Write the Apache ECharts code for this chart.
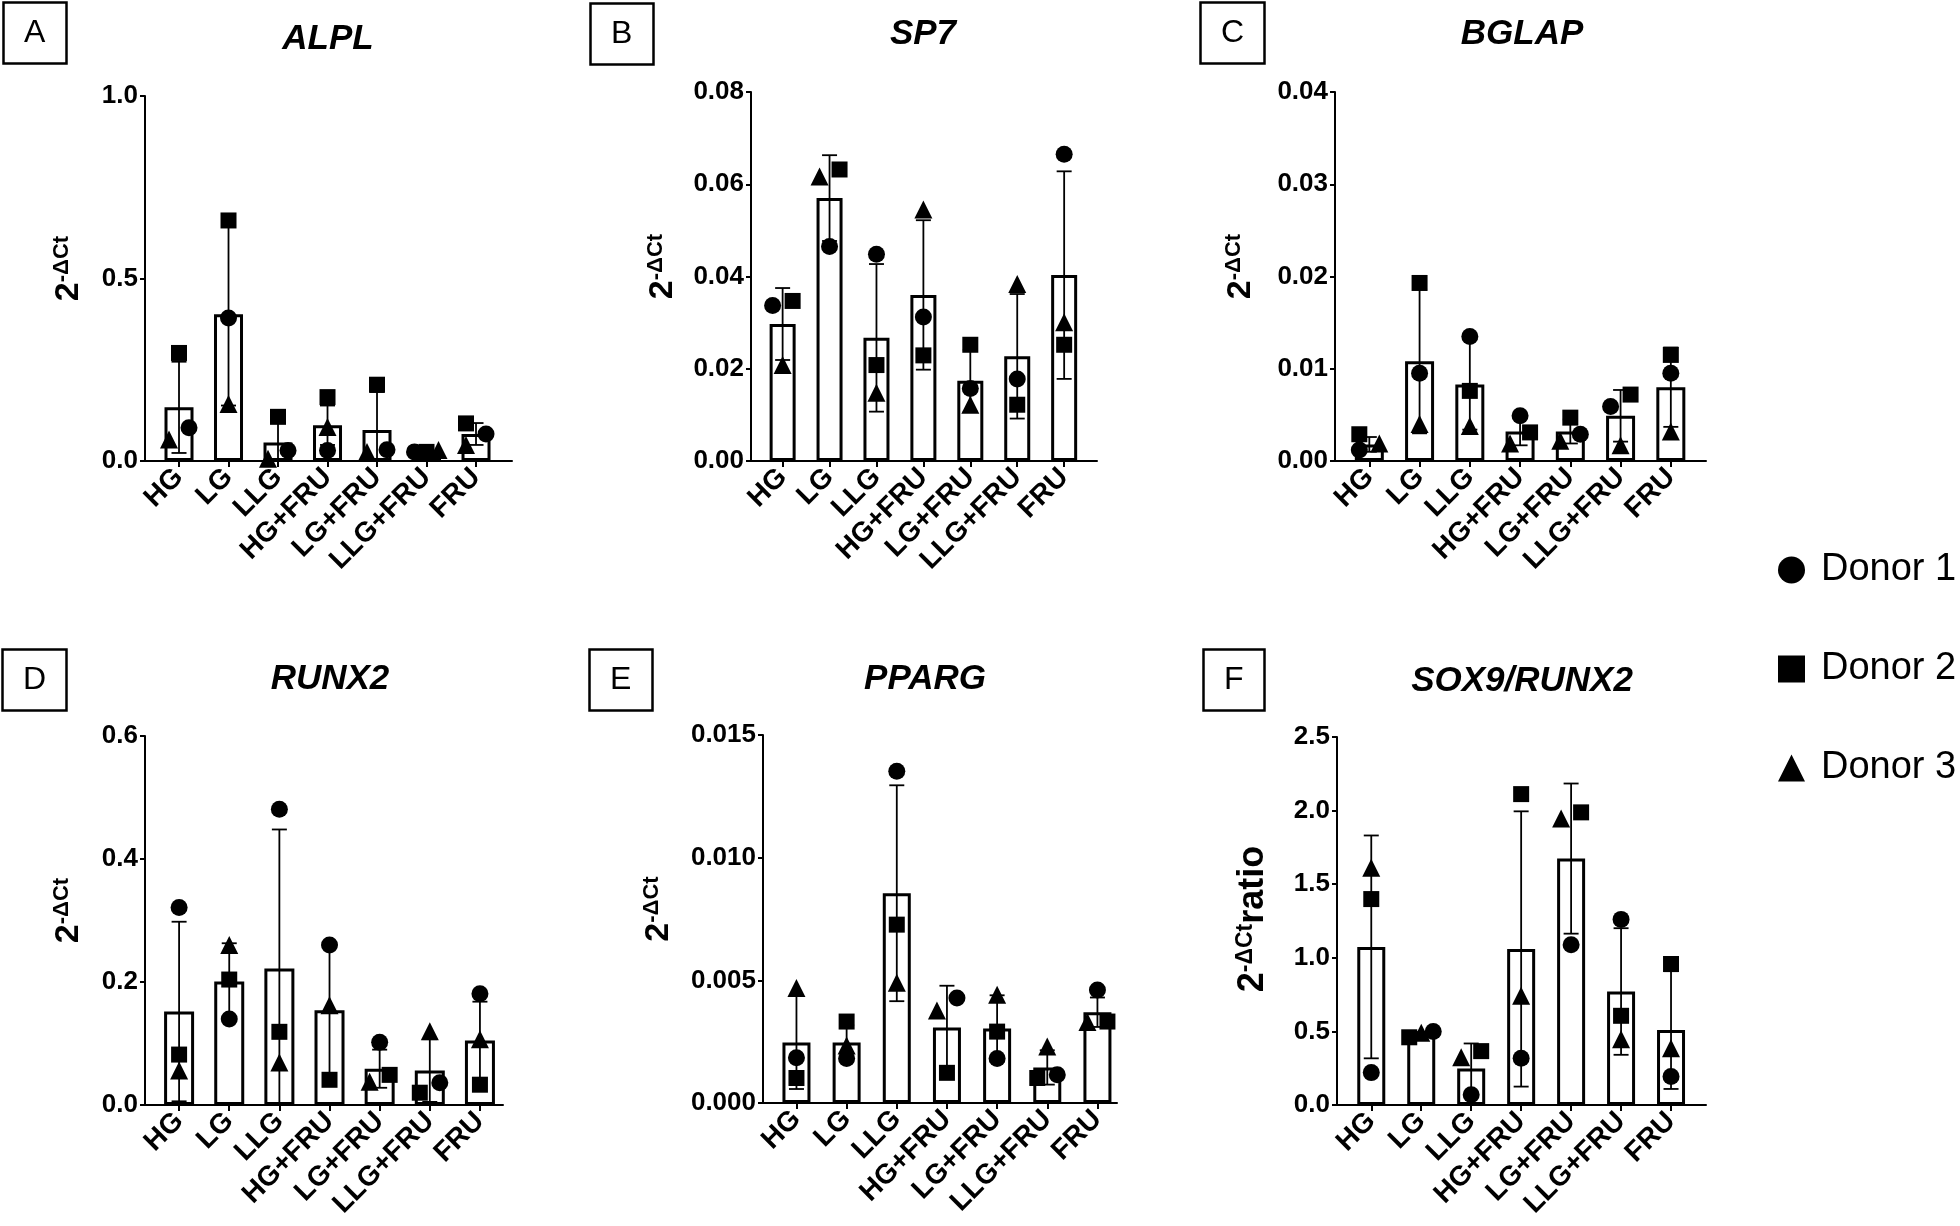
<!DOCTYPE html>
<html>
<head>
<meta charset="utf-8">
<script src="https://cdn.jsdelivr.net/npm/echarts@6/dist/echarts.min.js"></script>
<style>
html,body{margin:0;padding:0;background:#fff;}
#chart{width:1960px;height:1226px;}
</style>
</head>
<body>
<div id="chart"></div>
<script>
// ---------------- DATA ----------------
const categories = ['HG', 'LG', 'LLG', 'HG+FRU', 'LG+FRU', 'LLG+FRU', 'FRU'];
const donorNames = ['Donor 1', 'Donor 2', 'Donor 3'];

// A: ALPL
const alplDonor1 = [0.091, 0.392, 0.029, 0.029, 0.031, 0.025, 0.074];
const alplDonor2 = [0.296, 0.659, 0.121, 0.175, 0.209, 0.025, 0.103];
const alplDonor3 = [0.059, 0.156, 0.006, 0.093, 0.025, 0.030, 0.044];
const alplMean   = [0.147, 0.402, 0.051, 0.098, 0.085, 0.027, 0.074];
const alplSD     = [0.125, 0.250, 0.061, 0.054, 0.104, 0.003, 0.030];

// B: SP7
const sp7Donor1 = [0.0337, 0.0465, 0.0448, 0.0312, 0.0157, 0.0178, 0.0665];
const sp7Donor2 = [0.0347, 0.0632, 0.0208, 0.0229, 0.0252, 0.0122, 0.0252];
const sp7Donor3 = [0.0208, 0.0617, 0.0148, 0.0545, 0.0122, 0.0384, 0.0301];
const sp7Mean   = [0.0297, 0.0570, 0.0267, 0.0360, 0.0174, 0.0227, 0.0403];
const sp7SD     = [0.0078, 0.0093, 0.0160, 0.0162, 0.0067, 0.0135, 0.0225];

// C: BGLAP
const bglapDonor1 = [0.0012, 0.0095, 0.0135, 0.0049, 0.0029, 0.0059, 0.0095];
const bglapDonor2 = [0.0029, 0.0193, 0.0076, 0.0031, 0.0047, 0.0072, 0.0115];
const bglapDonor3 = [0.0019, 0.0040, 0.0038, 0.0019, 0.0022, 0.0017, 0.0032];
const bglapMean   = [0.0018, 0.0108, 0.0083, 0.0032, 0.0032, 0.0049, 0.0080];
const bglapSD     = [0.0008, 0.0078, 0.0049, 0.0015, 0.0013, 0.0028, 0.0043];

// D: RUNX2
const runx2Donor1 = [0.321, 0.140, 0.481, 0.260, 0.102, 0.036, 0.181];
const runx2Donor2 = [0.082, 0.204, 0.119, 0.041, 0.049, 0.020, 0.033];
const runx2Donor3 = [0.056, 0.260, 0.069, 0.162, 0.038, 0.120, 0.107];
const runx2Mean   = [0.152, 0.201, 0.222, 0.154, 0.059, 0.056, 0.105];
const runx2SD     = [0.146, 0.062, 0.226, 0.110, 0.031, 0.051, 0.063];

// E: PPARG
const ppargDonor1 = [0.00184, 0.00181, 0.01352, 0.00428, 0.00181, 0.00115, 0.00461];
const ppargDonor2 = [0.00102, 0.00332, 0.00727, 0.00123, 0.00291, 0.00102, 0.00332];
const ppargDonor3 = [0.00469, 0.00234, 0.00490, 0.00377, 0.00441, 0.00230, 0.00330];
const ppargMean   = [0.00247, 0.00247, 0.00855, 0.00308, 0.00304, 0.00145, 0.00370];
const ppargSD     = [0.00190, 0.00070, 0.00440, 0.00170, 0.00135, 0.00070, 0.00060];

// F: SOX9/RUNX2
const ratioDonor1 = [0.220, 0.500, 0.069, 0.317, 1.088, 1.261, 0.193];
const ratioDonor2 = [1.399, 0.460, 0.366, 2.112, 1.988, 0.606, 0.958];
const ratioDonor3 = [1.611, 0.490, 0.325, 0.743, 1.947, 0.446, 0.385];
const ratioMean   = [1.074, 0.476, 0.248, 1.060, 1.674, 0.771, 0.509];
const ratioSD     = [0.757, 0.020, 0.170, 0.935, 0.510, 0.430, 0.400];

// y-axis scales (max, interval, decimals)
const alplAxis  = [1.0, 0.5, 1];
const sp7Axis   = [0.08, 0.02, 2];
const bglapAxis = [0.04, 0.01, 2];
const runx2Axis = [0.6, 0.2, 1];
const ppargAxis = [0.015, 0.005, 3];
const ratioAxis = [2.5, 0.5, 1];

// ---------------- PANELS (data refs + layout) ----------------
const FONT = '"Liberation Sans", Arial, Helvetica, sans-serif';
const panels = [
  { letter: 'A', title: 'ALPL', donors: [alplDonor1, alplDonor2, alplDonor3], mean: alplMean, sd: alplSD, axis: alplAxis, ratio: false,
    grid: { left: 145, top: 96, width: 367, height: 365 }, xr: [-0.687, 6.727], barW: 29, nameGap: 58,
    titlePos: [328, 22], letterPos: [3, 2] },
  { letter: 'B', title: 'SP7', donors: [sp7Donor1, sp7Donor2, sp7Donor3], mean: sp7Mean, sd: sp7SD, axis: sp7Axis, ratio: false,
    grid: { left: 751, top: 92, width: 346, height: 369 }, xr: [-0.674, 6.70], barW: 26, nameGap: 70,
    titlePos: [923, 17], letterPos: [590, 3] },
  { letter: 'C', title: 'BGLAP', donors: [bglapDonor1, bglapDonor2, bglapDonor3], mean: bglapMean, sd: bglapSD, axis: bglapAxis, ratio: false,
    grid: { left: 1335, top: 92, width: 371, height: 369 }, xr: [-0.683, 6.70], barW: 29, nameGap: 76,
    titlePos: [1522, 17], letterPos: [1200, 2] },
  { letter: 'D', title: 'RUNX2', donors: [runx2Donor1, runx2Donor2, runx2Donor3], mean: runx2Mean, sd: runx2SD, axis: runx2Axis, ratio: false,
    grid: { left: 145, top: 736, width: 358, height: 369 }, xr: [-0.68, 6.46], barW: 30, nameGap: 58,
    titlePos: [330, 662], letterPos: [2, 649] },
  { letter: 'E', title: 'PPARG', donors: [ppargDonor1, ppargDonor2, ppargDonor3], mean: ppargMean, sd: ppargSD, axis: ppargAxis, ratio: false,
    grid: { left: 763, top: 735, width: 354, height: 368 }, xr: [-0.667, 6.39], barW: 28, nameGap: 86,
    titlePos: [925, 662], letterPos: [589, 649] },
  { letter: 'F', title: 'SOX9/RUNX2', donors: [ratioDonor1, ratioDonor2, ratioDonor3], mean: ratioMean, sd: ratioSD, axis: ratioAxis, ratio: true,
    grid: { left: 1337, top: 737, width: 369, height: 368 }, xr: [-0.686, 6.70], barW: 28, nameGap: 65,
    titlePos: [1522, 664], letterPos: [1203, 649] }
];

const symbols = ['circle', 'rect', 'triangle'];
const symbolSizes = [17, 16, 18];

// horizontal spreading of overlapping points (computed from the data, like a dot-plot)
function spread(vals, yMax, plotH) {
  const S = 13, h = 10, d = 12;
  const py = i => vals[i] / yMax * plotH;
  const idx = [0, 1, 2].sort((a, b) => vals[a] - vals[b]);
  const off = [0, 0, 0];
  const clusters = [];
  let cur = [idx[0]];
  for (let k = 1; k < idx.length; k++) {
    if (py(idx[k]) - py(idx[k - 1]) < S) cur.push(idx[k]);
    else { clusters.push(cur); cur = [idx[k]]; }
  }
  clusters.push(cur);
  clusters.forEach(c => {
    if (c.length === 2) { off[c[0]] = -h; off[c[1]] = h; }
    else if (c.length === 3) {
      if (py(c[2]) - py(c[0]) < S) { off[c[0]] = -d; off[c[1]] = 0; off[c[2]] = d; }
      else { off[c[0]] = -h; off[c[1]] = h; off[c[2]] = -h; }
    }
  });
  return off;
}

const grids = [], xAxes = [], yAxes = [], series = [], titles = [];

panels.forEach((p, gi) => {
  const [yMax, yInt, dec] = p.axis;
  grids.push(Object.assign({}, p.grid));

  xAxes.push({
    type: 'value', gridIndex: gi, min: p.xr[0], max: p.xr[1],
    splitLine: { show: false },
    axisLine: { show: true, onZero: false, lineStyle: { color: '#000', width: 2 } },
    axisTick: { show: true, customValues: categories.map((c, i) => i), length: 6, lineStyle: { color: '#000', width: 2 } },
    axisLabel: {
      show: true, customValues: categories.map((c, i) => i), rotate: 45, margin: 12,
      formatter: v => categories[Math.round(v)] || '',
      color: '#000', fontSize: 28, fontWeight: 'bold', fontFamily: FONT
    }
  });

  const big = p.ratio ? 36 : 34, small = p.ratio ? 23 : 22;
  const nameRich = {
    a: { fontSize: big, fontWeight: 'bold', fontFamily: FONT, color: '#000', lineHeight: big + 2 },
    b: { fontSize: small, fontWeight: 'bold', fontFamily: FONT, color: '#000', verticalAlign: 'top', lineHeight: small + 2 }
  };
  yAxes.push({
    type: 'value', gridIndex: gi, min: 0, max: yMax, interval: yInt,
    name: p.ratio ? '{a|2}{b|-ΔCt}{a|ratio}' : '{a|2}{b|-ΔCt}',
    nameLocation: 'middle', nameRotate: 90, nameGap: p.nameGap,
    nameTextStyle: { color: '#000', padding: p.ratio ? [0, 0, 0, 4] : [0, 0, 0, 20], rich: nameRich },
    splitLine: { show: false },
    axisLine: { show: true, onZero: false, lineStyle: { color: '#000', width: 2 } },
    axisTick: { show: true, length: 5, lineStyle: { color: '#000', width: 2 } },
    axisLabel: {
      color: '#000', fontSize: 26, fontWeight: 'bold', fontFamily: FONT, margin: 7,
      formatter: v => Number(v).toFixed(dec)
    }
  });

  // bars (means)
  series.push({
    type: 'bar', xAxisIndex: gi, yAxisIndex: gi, silent: true, barWidth: p.barW, z: 1,
    itemStyle: { color: '#fff', borderColor: '#000', borderWidth: 3 },
    data: p.mean.map((m, i) => [i, m])
  });

  // error bars (mean ± SD)
  series.push({
    type: 'custom', xAxisIndex: gi, yAxisIndex: gi, silent: true, z: 2,
    encode: { x: 0, y: 1 },
    data: p.mean.map((m, i) => [i, m, p.sd[i]]),
    renderItem: (params, api) => {
      const x = api.value(0), m = api.value(1), s = api.value(2);
      const hi = m + s, lo = m - s;
      const pt = api.coord([x, hi]);
      const pb = api.coord([x, Math.max(lo, 0)]);
      const cw = 7.5, st = { stroke: '#000', lineWidth: 1.8 };
      const ch = [
        { type: 'line', shape: { x1: pt[0], y1: pt[1], x2: pb[0], y2: pb[1] }, style: st },
        { type: 'line', shape: { x1: pt[0] - cw, y1: pt[1], x2: pt[0] + cw, y2: pt[1] }, style: st }
      ];
      if (lo >= 0) ch.push({ type: 'line', shape: { x1: pb[0] - cw, y1: pb[1], x2: pb[0] + cw, y2: pb[1] }, style: st });
      return { type: 'group', children: ch };
    }
  });

  // donor points
  const offs = categories.map((c, i) => spread([p.donors[0][i], p.donors[1][i], p.donors[2][i]], yMax, p.grid.height));
  p.donors.forEach((vals, d) => {
    series.push({
      type: 'scatter', name: donorNames[d], xAxisIndex: gi, yAxisIndex: gi, z: 3, silent: true,
      symbol: symbols[d], symbolSize: symbolSizes[d],
      itemStyle: { color: '#000', opacity: 1 },
      data: vals.map((v, i) => ({ value: [i, v], symbolOffset: [offs[i][d], 0] }))
    });
  });

  titles.push({
    text: p.title, left: p.titlePos[0], top: p.titlePos[1], textAlign: 'center', padding: 0,
    textStyle: { fontSize: 35, fontWeight: 'bold', fontStyle: 'italic', color: '#000', fontFamily: FONT }
  });
  titles.push({
    text: p.letter, left: p.letterPos[0], top: p.letterPos[1], padding: [15, 21, 15, 21],
    borderColor: '#000', borderWidth: 2.5,
    textStyle: { fontSize: 32, fontWeight: 'normal', color: '#000', fontFamily: FONT, lineHeight: 32 }
  });
});

const chart = echarts.init(document.getElementById('chart'), null, { renderer: 'canvas' });
chart.setOption({
  backgroundColor: '#fff',
  animation: false,
  title: titles,
  grid: grids,
  xAxis: xAxes,
  yAxis: yAxes,
  legend: {
    orient: 'vertical', left: 1773, top: 546, itemWidth: 27, itemHeight: 27, itemGap: 61,
    selectedMode: false,
    data: [
      { name: 'Donor 1', icon: 'circle' },
      { name: 'Donor 2', icon: 'rect' },
      { name: 'Donor 3', icon: 'triangle' }
    ],
    textStyle: { fontSize: 38, color: '#000', fontFamily: FONT, lineHeight: 38, padding: [0, 0, 0, 11] }
  },
  series: series
});
</script>
</body>
</html>
